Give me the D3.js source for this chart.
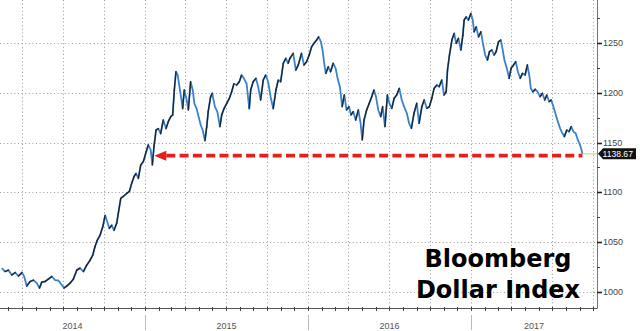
<!DOCTYPE html>
<html>
<head>
<meta charset="utf-8">
<script src="https://cdn.jsdelivr.net/npm/d3@7"></script>
<style>
  body { margin: 0; background: #fff; }
  svg { display: block; }
</style>
</head>
<body>
<svg id="chart" width="640" height="331"></svg>
<script>
// Bloomberg Dollar Spot Index (time as fractional year)
const years = [
  2014.121,2014.141,2014.161,2014.182,2014.203,2014.223,2014.244,2014.258,2014.274,2014.295,
  2014.315,2014.336,2014.352,2014.366,2014.387,2014.407,2014.428,2014.448,2014.468,2014.489,
  2014.503,2014.520,2014.540,2014.560,2014.581,2014.601,2014.622,2014.642,2014.663,2014.679,
  2014.693,2014.707,2014.724,2014.741,2014.755,2014.765,2014.781,2014.796,2014.810,2014.826,
  2014.836,2014.851,2014.867,2014.888,2014.904,2014.918,2014.933,2014.945,2014.959,2014.974,
  2014.990,2015.004,2015.020,2015.035,2015.045,2015.055,2015.068,2015.082,2015.096,2015.112,
  2015.129,2015.143,2015.158,2015.170,2015.180,2015.190,2015.201,2015.210,2015.221,2015.231,
  2015.241,2015.256,2015.266,2015.280,2015.293,2015.303,2015.317,2015.329,2015.342,2015.354,
  2015.368,2015.379,2015.388,2015.403,2015.413,2015.429,2015.444,2015.460,2015.471,2015.485,
  2015.501,2015.517,2015.532,2015.546,2015.563,2015.579,2015.593,2015.607,2015.624,2015.640,
  2015.649,2015.664,2015.681,2015.695,2015.710,2015.726,2015.741,2015.756,2015.771,2015.787,
  2015.804,2015.818,2015.833,2015.849,2015.865,2015.879,2015.890,2015.910,2015.926,2015.941,
  2015.961,2015.976,2015.992,2016.008,2016.023,2016.037,2016.053,2016.066,2016.080,2016.090,
  2016.100,2016.110,2016.125,2016.139,2016.155,2016.170,2016.182,2016.196,2016.210,2016.223,
  2016.237,2016.252,2016.264,2016.278,2016.293,2016.309,2016.323,2016.333,2016.344,2016.360,
  2016.376,2016.391,2016.405,2016.417,2016.431,2016.446,2016.458,2016.472,2016.487,2016.499,
  2016.514,2016.528,2016.544,2016.560,2016.575,2016.589,2016.606,2016.620,2016.634,2016.650,
  2016.667,2016.681,2016.698,2016.712,2016.728,2016.744,2016.759,2016.773,2016.790,2016.804,
  2016.820,2016.834,2016.847,2016.855,2016.867,2016.882,2016.896,2016.908,2016.922,2016.937,
  2016.949,2016.957,2016.969,2016.983,2016.998,2017.010,2017.018,2017.031,2017.045,2017.060,
  2017.072,2017.086,2017.100,2017.112,2017.127,2017.141,2017.153,2017.168,2017.182,2017.192,
  2017.204,2017.219,2017.233,2017.245,2017.260,2017.274,2017.287,2017.301,2017.315,2017.331,
  2017.345,2017.358,2017.366,2017.379,2017.393,2017.407,2017.423,2017.437,2017.452,2017.464,
  2017.479,2017.491,2017.505,2017.520,2017.532,2017.546,2017.560,2017.572,2017.587,2017.601,
  2017.614,2017.628,2017.642,2017.655,2017.664,2017.675,2017.683
];
const values = [
  1024,1020.6,1022,1017,1019.6,1016,1019.6,1015.6,1006,1010.6,
  1012,1009,1004,1010,1010.6,1013,1015.6,1012,1011.6,1007,
  1004,1006,1009,1013,1022,1024,1020.6,1027,1032,1037,
  1045.7,1052,1057,1065.7,1077,1072,1064,1067,1062,1069,
  1079,1094,1096,1099,1101,1109,1116,1119,1114,1127.5,
  1131,1139,1147.6,1142.6,1127.5,1146,1162.6,1164,1159,1172.6,
  1164,1171,1176,1177.7,1202.7,1221,1217.7,1207.7,1196,1184,
  1202.7,1192.7,1182.7,1211,1202.7,1189,1184,1176,1167.6,1162.6,
  1152,1166,1181,1196,1199.4,1186,1181,1166,1177.7,1184,
  1189,1194,1201,1209,1207.7,1211,1217.7,1214.4,1209,1184,
  1202.7,1211,1214.4,1206,1192.7,1212.7,1217.7,1211,1196,1184,
  1202.7,1212.7,1211,1229.5,1234.5,1229.5,1234.5,1239.5,1222.7,1227.8,
  1239.5,1227.8,1231,1237.8,1246,1249.5,1252.8,1256,1251,1242.8,
  1229.5,1219.4,1226,1221,1229.5,1224.5,1214.4,1206,1186,1197.7,
  1182.7,1186,1177.7,1181,1172.6,1182.7,1169.3,1152.6,1172.6,1182.7,
  1189.4,1196,1202.7,1196,1182.7,1176,1186,1166,1197.7,1189.4,
  1184.3,1194.4,1197.7,1204.4,1192.7,1186,1179.4,1169.3,1164.3,1179.4,
  1189.4,1169.3,1186,1192.7,1184.3,1186,1194.4,1204.4,1207.7,1206,
  1212.7,1197.7,1201,1222.7,1237.8,1252.8,1259.5,1249.5,1254.5,1242.8,
  1257.8,1272.8,1276.1,1272.8,1279.5,1272.8,1261.1,1266.1,1256,1261.1,
  1249.5,1237.8,1232.8,1241.1,1242.8,1237.8,1241.1,1251.1,1252.8,1244.5,
  1232.8,1224.5,1214.4,1224.5,1227.8,1231.1,1221,1214.4,1219.4,1217.7,
  1227.8,1216,1204.4,1201,1203.4,1201,1196,1199.4,1192.7,1197.7,
  1191,1192.7,1186,1177.7,1171,1164.3,1159.3,1155.9,1162.6,1160.9,
  1165.9,1160.9,1159.3,1152.6,1149.3,1144.3,1138.67
];
const yTicks = [1000, 1050, 1100, 1150, 1200, 1250];
const yMinorTicks = [1025, 1075, 1125, 1175, 1225, 1275];
const yearLabels = [2014, 2015, 2016, 2017];
const titleLines = ['Bloomberg', 'Dollar Index'];
const arrowFrom = 2015.057;   // where the red arrow points (fractional year)

const W = 640, H = 331;
const plot = { left: 0, right: 597, top: 0, bottom: 308 };

function toDate(t) {
  const y = Math.floor(t);
  const s = new Date(y, 0, 1), e = new Date(y + 1, 0, 1);
  return new Date(+s + (t - y) * (e - s));
}

const data = years.map((t, i) => ({ date: toDate(t), value: values[i] }));
const last = data[data.length - 1];

const x = d3.scaleTime()
  .domain([new Date(2014, 1, 10), new Date(2017, 9, 10)])
  .range([plot.left, plot.right]);
const y = d3.scaleLinear()
  .domain([984, 1293])
  .range([plot.bottom, plot.top]);

const svg = d3.select('#chart');
svg.append('rect').attr('width', W).attr('height', H).attr('fill', '#fff');

// grid
const quarters = d3.timeMonth.every(3).range(x.domain()[0], x.domain()[1]);
const months = d3.timeMonth.range(x.domain()[0], x.domain()[1]);
const grid = svg.append('g')
  .attr('stroke', '#9a9a9a').attr('stroke-width', 1).attr('stroke-dasharray', '1,2.6');
grid.selectAll('.gx').data(quarters).join('line')
  .attr('x1', d => Math.round(x(d)) + 0.5).attr('x2', d => Math.round(x(d)) + 0.5)
  .attr('y1', plot.top).attr('y2', plot.bottom);
grid.selectAll('.gy').data(yTicks).join('line')
  .attr('x1', plot.left).attr('x2', plot.right)
  .attr('y1', d => Math.round(y(d)) + 0.5).attr('y2', d => Math.round(y(d)) + 0.5);

// title
svg.append('g').selectAll('text').data(titleLines).join('text')
  .attr('x', 498).attr('y', (d, i) => 267 + i * 31)
  .attr('text-anchor', 'middle')
  .attr('font-family', 'DejaVu Sans, Verdana, sans-serif')
  .attr('font-weight', 'bold').attr('font-size', 24)
  .attr('fill', '#000')
  .text(d => d);

// series: blue line, rising moves overdrawn dark
const line = d3.line().x(d => x(d.date)).y(d => y(d.value));
svg.append('path').datum(data)
  .attr('fill', 'none').attr('stroke', '#3a80cc').attr('stroke-width', 1.8)
  .attr('stroke-linejoin', 'round')
  .attr('d', line);
const ups = d3.pairs(data).filter(d => d[1].value > d[0].value);
svg.append('g').attr('stroke', '#1a1a1a').attr('stroke-width', 1.3).attr('stroke-linecap', 'round')
  .attr('opacity', 0.9)
  .selectAll('line').data(ups).join('line')
  .attr('x1', d => x(d[0].date)).attr('y1', d => y(d[0].value))
  .attr('x2', d => x(d[1].date)).attr('y2', d => y(d[1].value));

// last-price guide
const yLast = y(last.value);
svg.append('line')
  .attr('x1', x(last.date)).attr('x2', plot.right)
  .attr('y1', yLast).attr('y2', yLast)
  .attr('stroke', '#d8c68a').attr('stroke-width', 1);

// red dashed arrow
const ax = x(toDate(arrowFrom)), ay = yLast + 1.8;
svg.append('line')
  .attr('x1', ax + 12).attr('x2', x(last.date))
  .attr('y1', ay).attr('y2', ay)
  .attr('stroke', '#e3201b').attr('stroke-width', 3.6)
  .attr('stroke-dasharray', '9,4.3');
svg.append('path')
  .attr('d', `M${ax},${ay} L${ax + 12},${ay - 5} L${ax + 12},${ay + 5} Z`)
  .attr('fill', '#e3201b');

// axes lines
svg.append('line')
  .attr('x1', plot.left).attr('x2', plot.right + 0.5)
  .attr('y1', plot.bottom + 0.5).attr('y2', plot.bottom + 0.5)
  .attr('stroke', '#555').attr('stroke-width', 1);
svg.append('line')
  .attr('x1', plot.right + 0.5).attr('x2', plot.right + 0.5)
  .attr('y1', plot.top).attr('y2', plot.bottom + 0.5)
  .attr('stroke', '#777').attr('stroke-width', 1);

// bottom ticks (monthly)
svg.append('g').attr('stroke', '#444').attr('stroke-width', 1)
  .selectAll('line').data(months).join('line')
  .attr('x1', d => Math.round(x(d)) + 0.5).attr('x2', d => Math.round(x(d)) + 0.5)
  .attr('y1', plot.bottom - 1).attr('y2', plot.bottom + 3);

// year separators and labels
const yearStarts = yearLabels.map(yr => new Date(yr, 0, 1));
svg.append('g').attr('stroke', '#bbb').attr('stroke-width', 1)
  .selectAll('line').data(yearStarts.filter(d => d > x.domain()[0])).join('line')
  .attr('x1', d => Math.round(x(d)) + 0.5).attr('x2', d => Math.round(x(d)) + 0.5)
  .attr('y1', 315).attr('y2', 330);
svg.append('g').selectAll('text').data(yearLabels).join('text')
  .attr('x', yr => {
    const a = Math.max(x(new Date(yr, 0, 1)), plot.left);
    const b = Math.min(x(new Date(yr + 1, 0, 1)), plot.right);
    return (a + b) / 2;
  })
  .attr('y', 328.5)
  .attr('text-anchor', 'middle')
  .attr('font-family', 'Liberation Sans, Arial, sans-serif').attr('font-size', 9)
  .attr('fill', '#555')
  .text(d => d);

// right axis ticks and labels
const ry = svg.append('g');
ry.selectAll('.maj').data(yTicks).join('line')
  .attr('x1', plot.right).attr('x2', plot.right + 5)
  .attr('y1', d => Math.round(y(d)) + 0.5).attr('y2', d => Math.round(y(d)) + 0.5)
  .attr('stroke', '#222').attr('stroke-width', 1.6);
ry.selectAll('.min').data(yMinorTicks).join('line')
  .attr('x1', plot.right).attr('x2', plot.right + 3)
  .attr('y1', d => Math.round(y(d)) + 0.5).attr('y2', d => Math.round(y(d)) + 0.5)
  .attr('stroke', '#444').attr('stroke-width', 1);
ry.selectAll('text').data(yTicks).join('text')
  .attr('x', plot.right + 6).attr('y', d => y(d) + 3)
  .attr('font-family', 'Liberation Sans, Arial, sans-serif').attr('font-size', 9)
  .attr('fill', '#444')
  .text(d => d);

// last value tag
const tag = svg.append('g');
tag.append('path')
  .attr('d', `M${plot.right + 1},${yLast} L${plot.right + 6},${yLast - 5.5} L636,${yLast - 5.5} L636,${yLast + 5.5} L${plot.right + 6},${yLast + 5.5} Z`)
  .attr('fill', '#111');
tag.append('text')
  .attr('x', plot.right + 5.5).attr('y', yLast + 3)
  .attr('font-family', 'Liberation Sans, Arial, sans-serif').attr('font-size', 8.6)
  .attr('fill', '#fff')
  .text(last.value.toFixed(2));
</script>
</body>
</html>
